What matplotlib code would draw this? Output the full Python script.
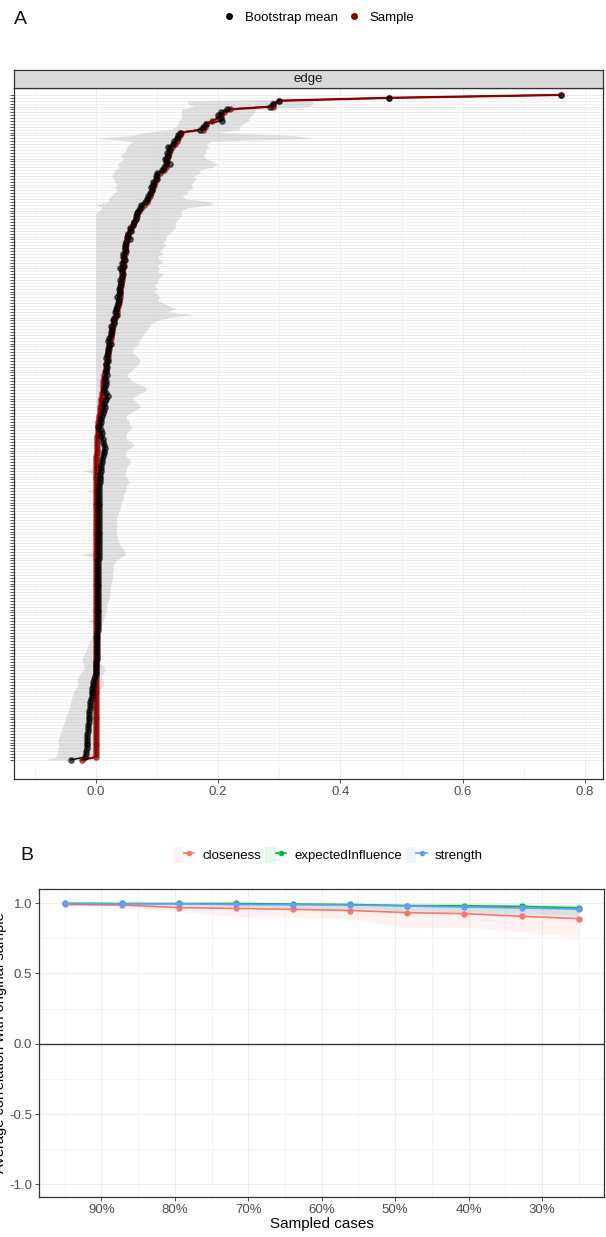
import numpy as np
import matplotlib
matplotlib.use("Agg")
import matplotlib.pyplot as plt
from matplotlib.lines import Line2D
from matplotlib.patches import Patch
from matplotlib.legend_handler import HandlerTuple

plt.rcParams["font.family"] = ["Liberation Sans", "DejaVu Sans"]

# ---- panel A: edge weights, sorted by sample value (231 edges) ----
sample_vals = [
    0.76, 0.48, 0.30, 0.29, 0.29, 0.22, 0.21, 0.205, 0.20, 0.19,
    0.18, 0.178, 0.175, 0.14, 0.137, 0.135, 0.132, 0.13, 0.125, 0.12,
    0.119, 0.118, 0.117, 0.116, 0.115, 0.114, 0.112, 0.105, 0.10, 0.099,
    0.097, 0.095, 0.094, 0.092, 0.09, 0.088, 0.086, 0.083, 0.078, 0.073,
    0.07, 0.068, 0.067, 0.065, 0.063, 0.061, 0.058, 0.055, 0.053, 0.052,
    0.051, 0.05, 0.049, 0.048, 0.047, 0.047, 0.046, 0.046, 0.045, 0.045,
    0.044, 0.043, 0.043, 0.042, 0.042, 0.041, 0.041, 0.040, 0.040, 0.040,
    0.039, 0.038, 0.037, 0.036, 0.035, 0.034, 0.033, 0.032, 0.030, 0.029,
    0.028, 0.027, 0.026, 0.025, 0.024, 0.023, 0.022, 0.022, 0.021, 0.020,
    0.019, 0.019, 0.018, 0.017, 0.016, 0.016, 0.015, 0.014, 0.013, 0.012,
    0.012, 0.011, 0.011, 0.010, 0.010, 0.009, 0.008, 0.008, 0.007, 0.007,
    0.006, 0.005, 0.005, 0.004, 0.004, 0.003, 0.003, 0.003, 0.002, 0.002,
    0.002, 0.001, 0.001, 0.001, 0.001,
] + [0.0] * 105 + [-0.023]

boot_mean = [
    0.76, 0.48, 0.30, 0.29, 0.285, 0.214, 0.205, 0.20, 0.205, 0.206,
    0.18, 0.175, 0.17, 0.138, 0.135, 0.133, 0.128, 0.126, 0.118, 0.121,
    0.117, 0.118, 0.113, 0.115, 0.121, 0.112, 0.108, 0.10, 0.098, 0.10,
    0.094, 0.093, 0.09, 0.091, 0.088, 0.086, 0.083, 0.08, 0.074, 0.072,
    0.069, 0.067, 0.065, 0.066, 0.062, 0.06, 0.056, 0.057, 0.053, 0.051,
    0.055, 0.049, 0.048, 0.047, 0.05, 0.045, 0.044, 0.047, 0.043, 0.046,
    0.039, 0.043, 0.044, 0.042, 0.04, 0.041, 0.039, 0.037, 0.04, 0.038,
    0.035, 0.037, 0.036, 0.034, 0.033, 0.031, 0.034, 0.03, 0.028, 0.03,
    0.025, 0.027, 0.025, 0.024, 0.022, 0.02, 0.025, 0.022, 0.02, 0.019,
    0.018, 0.017, 0.02, 0.016, 0.018, 0.017, 0.016, 0.018, 0.015, 0.016,
    0.017, 0.015, 0.014, 0.016, 0.02, 0.016, 0.015, 0.013, 0.015, 0.013,
    0.012, 0.01, 0.009, 0.008, 0.006, 0.004, 0.008, 0.01, 0.009, 0.011,
    0.012, 0.013, 0.015, 0.014, 0.013, 0.012, 0.01, 0.01, 0.009, 0.008,
    0.008, 0.007, 0.007, 0.006, 0.006, 0.005, 0.005,
] + [0.005] * 24 + [0.004] * 15 + [0.003] * 10 + [0.002] * 5 + [0.001] * 5 + [0.0] * 5 + [
    -0.002, -0.003, -0.004, -0.005, -0.006, -0.006, -0.007, -0.007, -0.008, -0.009,
    -0.009, -0.010, -0.011, -0.011, -0.012, -0.012, -0.012, -0.013, -0.013, -0.013,
    -0.014, -0.014, -0.014, -0.015, -0.015, -0.015, -0.016, -0.017, -0.018, -0.041,
]

ci_lower = [
    0.74, 0.44, 0.15, 0.15, 0.16, 0.14, 0.14, 0.14, 0.14, 0.135,
    0.135, 0.13, 0.12, 0.08, 0.06, 0.0, 0.06, 0.055, 0.05, 0.05,
    0.045, 0.04, 0.045, 0.04, 0.035, 0.04, 0.03, 0.03, 0.025, 0.03,
    0.03, 0.035, 0.03, 0.035, 0.03, 0.025, 0.02, 0.02, 0.0, 0.01,
    0.005, 0.0,
] + [0.0] * 88 + [-0.021, -0.005] + [0.0] * 5 + [-0.015] + [0.0] * 21 + [-0.023] + [0.0] * 18 + [
    -0.008] + [0.0] * 3 + [-0.015] + [0.0] * 2 + [
    -0.002, -0.004, -0.006, -0.008, -0.010, -0.012, -0.014, -0.015, -0.018, -0.020,
    -0.023, -0.022, -0.020, -0.020, -0.022, -0.025, -0.028, -0.031, -0.030, -0.029,
    -0.032, -0.035, -0.037, -0.039, -0.040, -0.041, -0.042, -0.043, -0.045, -0.047,
    -0.049, -0.050, -0.052, -0.054, -0.056, -0.057, -0.058, -0.060, -0.062, -0.062,
    -0.061, -0.062, -0.063, -0.063, -0.065, -0.087,
]

ci_upper = [
    0.79, 0.53, 0.355, 0.355, 0.35, 0.26, 0.26, 0.255, 0.25, 0.25,
    0.24, 0.235, 0.235, 0.20, 0.32, 0.36, 0.19, 0.18, 0.185, 0.18,
    0.18, 0.175, 0.18, 0.19, 0.20, 0.19, 0.17, 0.17, 0.16, 0.165,
    0.16, 0.155, 0.16, 0.15, 0.15, 0.14, 0.15, 0.19, 0.19, 0.15,
    0.14, 0.14, 0.14, 0.135, 0.13, 0.13, 0.13, 0.125, 0.12, 0.115,
    0.115, 0.11, 0.115, 0.11, 0.105, 0.11, 0.10, 0.105, 0.11, 0.10,
    0.105, 0.10, 0.11, 0.105, 0.10, 0.10, 0.095, 0.10, 0.095, 0.10,
    0.105, 0.10, 0.11, 0.12, 0.13, 0.115, 0.16, 0.12, 0.10, 0.09,
    0.088, 0.085, 0.08, 0.078, 0.075, 0.07, 0.07, 0.065, 0.06, 0.06,
    0.065, 0.07, 0.072, 0.07, 0.065, 0.06, 0.055, 0.05, 0.055, 0.06,
    0.07, 0.08, 0.083, 0.075, 0.065, 0.06, 0.065, 0.07, 0.073, 0.065,
    0.055, 0.05, 0.05, 0.055, 0.055, 0.06, 0.055, 0.05, 0.05, 0.05,
    0.058, 0.062, 0.058, 0.05, 0.048, 0.05, 0.055, 0.058, 0.052, 0.05,
    0.05, 0.048, 0.05, 0.052, 0.055, 0.05, 0.05, 0.048, 0.045, 0.045,
    0.045, 0.042, 0.04, 0.04, 0.038, 0.036, 0.034, 0.034, 0.034, 0.035,
    0.034, 0.033, 0.034, 0.035, 0.036, 0.038, 0.04, 0.045, 0.048, 0.048,
    0.04, 0.034, 0.03, 0.028, 0.028, 0.027, 0.027, 0.027, 0.026, 0.025,
    0.024, 0.023, 0.023, 0.022, 0.022, 0.02, 0.018, 0.018, 0.017, 0.016,
    0.015, 0.013, 0.012, 0.01, 0.008, 0.006, 0.004, 0.003, 0.003, 0.002,
    0.002, 0.002, 0.002, 0.002, 0.002, 0.002, 0.006, 0.01, 0.013, 0.015,
    0.012, 0.008, 0.01, 0.013, 0.012, 0.008, 0.004,
] + [0.002] * 24

edge_ticks = [0.0, 0.2, 0.4, 0.6, 0.8]
edge_ticklabels = ["0.0", "0.2", "0.4", "0.6", "0.8"]

# ---- panel B: case-dropping stability ----
sampled_cases = [0.95, 0.8722, 0.7944, 0.7167, 0.6389, 0.5611, 0.4833, 0.4056, 0.3278, 0.25]
closeness_mean = [0.990, 0.986, 0.968, 0.962, 0.955, 0.947, 0.932, 0.925, 0.906, 0.889]
closeness_lo = [0.975, 0.965, 0.940, 0.905, 0.900, 0.890, 0.825, 0.830, 0.795, 0.760]
closeness_hi = [1.0, 1.0, 0.998, 0.995, 0.992, 0.990, 0.985, 0.980, 0.975, 0.965]
ei_mean = [0.998, 0.997, 0.997, 0.997, 0.993, 0.990, 0.982, 0.981, 0.976, 0.966]
ei_lo = [0.990, 0.985, 0.980, 0.975, 0.965, 0.955, 0.945, 0.940, 0.925, 0.910]
ei_hi = [1.0, 1.0, 1.0, 1.0, 0.999, 0.998, 0.996, 0.995, 0.993, 0.990]
strength_mean = [0.997, 0.995, 0.995, 0.990, 0.988, 0.986, 0.979, 0.972, 0.965, 0.957]
strength_lo = [0.990, 0.983, 0.978, 0.970, 0.960, 0.950, 0.940, 0.930, 0.915, 0.900]
strength_hi = [1.0, 1.0, 0.999, 0.998, 0.997, 0.995, 0.993, 0.990, 0.988, 0.985]
case_ticks = [0.9, 0.8, 0.7, 0.6, 0.5, 0.4, 0.3]
case_ticklabels = ["90%", "80%", "70%", "60%", "50%", "40%", "30%"]
corr_ticks = [-1.0, -0.5, 0.0, 0.5, 1.0]
corr_ticklabels = ["-1.0", "-0.5", "0.0", "0.5", "1.0"]

assert len(sample_vals) == len(boot_mean) == len(ci_lower) == len(ci_upper)

W, H = 606, 1237
GRID = "#ebebeb"
DARK = "#333333"
TICKTXT = "#4d4d4d"
NARROW = ["Liberation Sans Narrow", "Liberation Sans", "DejaVu Sans"]


def fx(px):
    return px / W


def fy(py):
    return 1 - py / H


def style_axes(ax):
    for s in ax.spines.values():
        s.set_color(DARK)
        s.set_linewidth(0.9)
    ax.tick_params(which="major", length=3, width=0.6, color=DARK,
                   labelsize=9.5, labelcolor=TICKTXT, pad=2)
    ax.tick_params(which="minor", length=0)


fig = plt.figure(figsize=(W / 100, H / 100), dpi=100)

# ---------------- panel A ----------------
idx = np.arange(len(sample_vals))
axA = fig.add_axes([fx(14), fy(779), fx(603) - fx(14), fy(88) - fy(779)])
axA.set_xlim(-0.134, 0.8295)
axA.set_ylim(236.6, -2.4)
axA.set_xticks(edge_ticks)
axA.set_xticklabels(edge_ticklabels)
axA.set_xticks([-0.1, 0.1, 0.3, 0.5, 0.7], minor=True)
axA.set_yticks(idx)
axA.tick_params(axis="y", labelleft=False)
axA.grid(which="major", color=GRID, lw=0.6, zorder=0)
axA.grid(which="minor", axis="x", color=GRID, lw=0.4, zorder=0)
axA.set_axisbelow(True)
style_axes(axA)

axA.fill_betweenx(idx, ci_lower, ci_upper, color="#bdbdbd", alpha=0.45, lw=0, zorder=1)
axA.plot(boot_mean, idx, color="black", lw=1.0, zorder=2)
axA.plot(sample_vals, idx, color="#8B0000", lw=1.6, zorder=3)
axA.plot(sample_vals, idx, ls="none", marker="o", ms=3.8, color="#8B0000", alpha=0.6, zorder=4)
axA.plot(boot_mean, idx, ls="none", marker="o", ms=3.8, color="black", alpha=0.6, zorder=5)

# facet strip
strip = fig.add_axes([fx(14), fy(88), fx(603) - fx(14), (88 - 70) / H])
strip.set_facecolor("#d9d9d9")
strip.set_xticks([])
strip.set_yticks([])
for s in strip.spines.values():
    s.set_color(DARK)
    s.set_linewidth(0.9)
strip.text(0.5, 0.5, "edge", ha="center", va="center", fontsize=9.5, color="#1a1a1a",
           transform=strip.transAxes)

legA = [Line2D([], [], ls="none", marker="o", ms=4, color="black"),
        Line2D([], [], ls="none", marker="o", ms=4, color="#8B0000")]
fig.legend(legA, ["Bootstrap mean", "Sample"], loc="center",
           bbox_to_anchor=(fx(318), fy(18)), ncol=2, frameon=False, fontsize=9.5,
           handlelength=1.2, handletextpad=0.6, columnspacing=0.6)
fig.text(fx(14), fy(20), "A", fontsize=14, va="center", ha="left", color="#111111",
         family=NARROW)

# ---------------- panel B ----------------
axB = fig.add_axes([fx(39), fy(1197), fx(604) - fx(39), fy(889) - fy(1197)])
axB.set_xlim(0.985, 0.2155)
axB.set_ylim(-1.09, 1.1)
axB.set_xticks(case_ticks)
axB.set_xticklabels(case_ticklabels)
axB.set_xticks([0.95, 0.85, 0.75, 0.65, 0.55, 0.45, 0.35, 0.25], minor=True)
axB.set_yticks(corr_ticks)
axB.set_yticklabels(corr_ticklabels)
axB.set_yticks([-0.75, -0.25, 0.25, 0.75], minor=True)
axB.grid(which="major", color=GRID, lw=0.6, zorder=0)
axB.grid(which="minor", color=GRID, lw=0.4, zorder=0)
axB.set_axisbelow(True)
style_axes(axB)
axB.axhline(0, color=DARK, lw=1.0, zorder=1)

series = [
    ("closeness", closeness_mean, closeness_lo, closeness_hi, "#F8766D"),
    ("expectedInfluence", ei_mean, ei_lo, ei_hi, "#00BA38"),
    ("strength", strength_mean, strength_lo, strength_hi, "#619CFF"),
]
handles = []
for name, m, lo, hi, col in series:
    axB.fill_between(sampled_cases, lo, hi, color=col, alpha=0.1, lw=0, zorder=2)
for name, m, lo, hi, col in series:
    axB.plot(sampled_cases, m, color=col, lw=1.2, marker="o", ms=3.5, zorder=3)
    handles.append((Patch(facecolor=col, alpha=0.1, edgecolor="none"),
                    Line2D([], [], color=col, lw=1.2, marker="o", ms=3)))

axB.set_xlabel("Sampled cases", fontsize=11, color="black", labelpad=1)
axB.set_ylabel("Average correlation with original sample", fontsize=10.5, color="black")
# label sits mostly outside the figure's left edge, as in the source image
axB.yaxis.set_label_coords((7 - 39) / (604 - 39), 0.5)

fig.legend(handles, [s[0] for s in series], loc="center",
           bbox_to_anchor=(fx(328), fy(855)), ncol=3, frameon=False, fontsize=9.5,
           handler_map={tuple: HandlerTuple(ndivide=None, pad=0)},
           handlelength=1.6, handleheight=1.4, handletextpad=0.6, columnspacing=0.3)
fig.text(fx(20), fy(855), "B", fontsize=14, va="center", ha="left", color="#111111",
         family=NARROW)

fig.savefig("out.png", dpi=100)
